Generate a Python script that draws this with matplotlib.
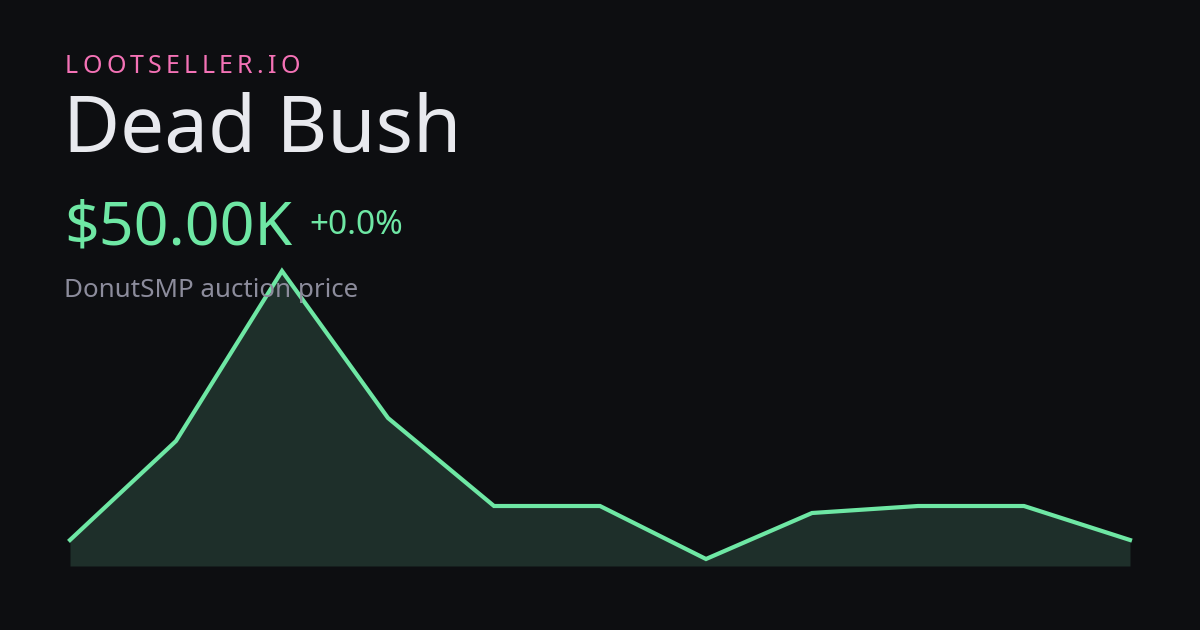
import numpy as np
import matplotlib.pyplot as plt

plt.rcParams['font.family'] = ['Noto Sans', 'DejaVu Sans']

# price history, thousands of $
days = list(range(11))
prices = [50.0, 69.8, 103.8, 74.4, 56.8, 56.8, 46.2, 55.4, 56.8, 56.8, 50.0]

brand = "LOOTSELLER.IO"
item_name = "Dead Bush"
price_label = "$50.00K"
change_label = "+0.0%"
subtitle = "DonutSMP auction price"

bg = "#0d0e11"
green = "#6ee7a4"
fill_col = "#1e2f2a"

W, H = 1200, 630
fig = plt.figure(figsize=(W / 100, H / 100), dpi=100, facecolor=bg)

# chart area: x 70..1130 px, y 566 (base) .. 271 (peak) px
ax = fig.add_axes([70 / W, (H - 566) / H, 1060 / W, (566 - 271) / H])
ax.set_facecolor("none")
base = 44.8
ax.fill_between(days, prices, base, color=fill_col, lw=0)
ax.plot(days, prices, color=green, lw=3, solid_joinstyle="miter", clip_on=False)
ax.set_xlim(days[0], days[-1])
ax.set_ylim(base, max(prices))
ax.axis("off")


def fy(py):
    return 1 - py / H


# spaced-out brand name, one char at a time
renderer = fig.canvas.get_renderer()
x = 65
for ch in brand:
    t = fig.text(x / W, fy(73), ch, color="#f472b6", fontsize=18, va="baseline")
    w = t.get_window_extent(renderer).width
    x += w + 4.25

fig.text(63 / W, fy(152), item_name, color="#e8e9ee", fontsize=56.3, va="baseline")
fig.text(64 / W, fy(245), price_label, color=green, fontsize=43.8, va="baseline")
fig.text(309 / W, fy(234), change_label, color=green, fontsize=24, va="baseline")
fig.text(64 / W, fy(297), subtitle, color="#8c8c9c", fontsize=18.7, va="baseline")

fig.savefig("out.png", dpi=100, facecolor=bg)
